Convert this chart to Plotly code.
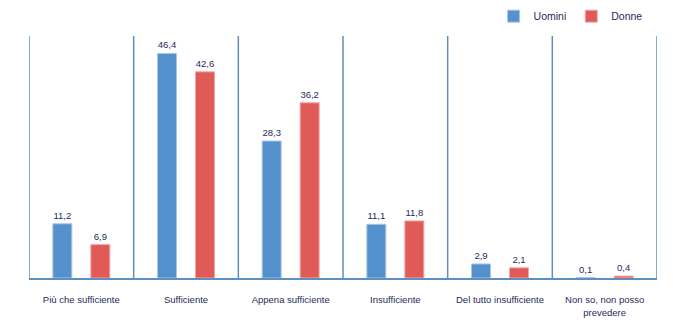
import plotly.graph_objects as go

categories = ["Più che sufficiente", "Sufficiente", "Appena sufficiente", "Insufficiente",
              "Del tutto insufficiente", "Non so, non posso<br>prevedere"]
uomini = [11.2, 46.4, 28.3, 11.1, 2.9, 0.1]
donne = [6.9, 42.6, 36.2, 11.8, 2.1, 0.4]

FONT = "Liberation Sans, Arial, sans-serif"
TXT = "#1f2a5c"
x = list(range(len(categories)))

fig = go.Figure()
fig.add_trace(go.Bar(x=x, y=uomini, name="Uomini",
                     marker=dict(color="#5592cd", line=dict(color="#a9c6e6", width=1)),
                     text=uomini, texttemplate="%{y:.1f}", textposition="outside",
                     cliponaxis=False,
                     textfont=dict(family=FONT, size=9.5, color=TXT)))
fig.add_trace(go.Bar(x=x, y=donne, name="Donne",
                     marker=dict(color="#e05b58", line=dict(color="#f0a8a6", width=1)),
                     text=donne, texttemplate="%{y:.1f}", textposition="outside",
                     cliponaxis=False,
                     textfont=dict(family=FONT, size=9.5, color=TXT)))

shapes = []
for i in range(len(categories) + 1):
    shapes.append(dict(type="line", xref="x", yref="paper", x0=i - 0.5, x1=i - 0.5,
                       y0=0, y1=1, line=dict(color="#5f8fbd", width=1.5), layer="below"))

fig.update_layout(
    width=673, height=330,
    margin=dict(l=29, r=16, t=36, b=52, autoexpand=False),
    paper_bgcolor="white", plot_bgcolor="white",
    barmode="group", bargap=0.274, bargroupgap=0.5,
    separators=",.",
    font=dict(family=FONT, size=10, color=TXT),
    showlegend=True,
    legend=dict(orientation="h", x=0.985, xanchor="right", y=0.995, yanchor="top",
                yref="container",
                font=dict(family=FONT, size=10.5, color=TXT),
                itemwidth=30, tracegroupgap=0, bgcolor="rgba(0,0,0,0)"),
    xaxis=dict(range=[-0.5, len(categories) - 0.5], tickvals=x, ticktext=categories,
               showgrid=False, zeroline=False, showline=True, linecolor="#5f8fbd", linewidth=1.5,
               ticks="", ticklabelstandoff=12, automargin=False,
               tickfont=dict(family=FONT, size=9.5, color=TXT)),
    yaxis=dict(range=[0, 50], visible=False, showgrid=False, zeroline=False, automargin=False),
    shapes=shapes,
)
fig.write_html("out.html")
